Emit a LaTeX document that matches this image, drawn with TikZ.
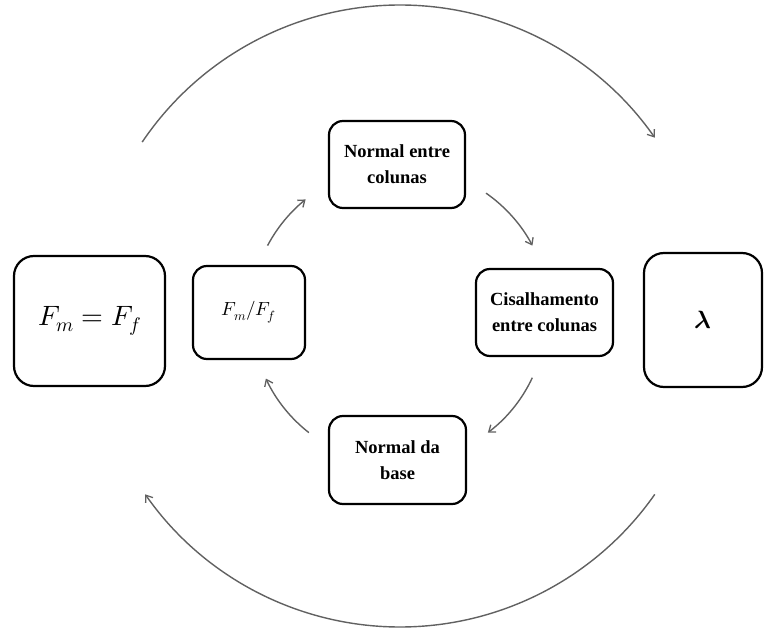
\documentclass[tikz,border=0pt]{standalone}
\usepackage{fontspec}
\usepackage{unicode-math}
\setmainfont{Liberation Serif}
\setmathfont{Latin Modern Math}
\usetikzlibrary{arrows.meta,calc}
\tikzset{
  box/.style={draw=black, line width=2.2pt, rounded corners=14pt, align=center, inner sep=0pt},
  lbl/.style={font=\bfseries\fontsize{18.5}{26}\selectfont},
  conn/.style={draw=black!62, line width=1.4pt, -{Straight Barb[length=6pt,width=9pt,line width=1.3pt]}}
}
\begin{document}
\begin{tikzpicture}[x=1pt,y=1pt]
\useasboundingbox (0,0) rectangle (766,633);
\coordinate (C) at (400,317);
% boxes
\node[box, rounded corners=20pt, minimum width=151pt, minimum height=130pt, font=\fontsize{28}{30}\selectfont] (eq) at (89.5,312) {$F_m = F_f$};
\node[box, minimum width=112pt, minimum height=93pt, font=\fontsize{19}{22}\selectfont] (ratio) at (249,320.5) {$F_m/F_f$};
\node[box, minimum width=137pt, minimum height=87pt, lbl] (cis) at (544.5,320.5) {Cisalhamento\\entre colunas};
\node[box, rounded corners=20pt, minimum width=118pt, minimum height=134pt, font=\fontsize{25}{28}\selectfont] (lam) at (703,313) {$\symbfit{\lambda}$};
\node[box, minimum width=136pt, minimum height=87pt, lbl] (nec) at (397,468.5) {Normal entre\\colunas};
\node[box, minimum width=137pt, minimum height=88pt, lbl] (ndb) at (397.5,173) {Normal da\\base};
% arc end points
\coordinate (t1) at ($(C)+(146:311)$);
\coordinate (b1) at ($(C)+(-35:311)$);
\coordinate (i1) at ($(C)+(152:150)$);
\coordinate (i2) at ($(C)+(55:150)$);
\coordinate (i3) at ($(C)+(-25:146)$);
\coordinate (i4) at ($(C)+(-128:148)$);
% big arcs
\draw[conn] (t1) arc[start angle=146, end angle=35, radius=311];
\draw[conn] (b1) arc[start angle=-35, end angle=-145, radius=311];
% inner arcs
\draw[conn] (i1) arc[start angle=152, end angle=129, radius=150];
\draw[conn] (i2) arc[start angle=55, end angle=28, radius=150];
\draw[conn] (i3) arc[start angle=-25, end angle=-53, radius=146];
\draw[conn] (i4) arc[start angle=-128, end angle=-155, radius=148];
\end{tikzpicture}
\end{document}
